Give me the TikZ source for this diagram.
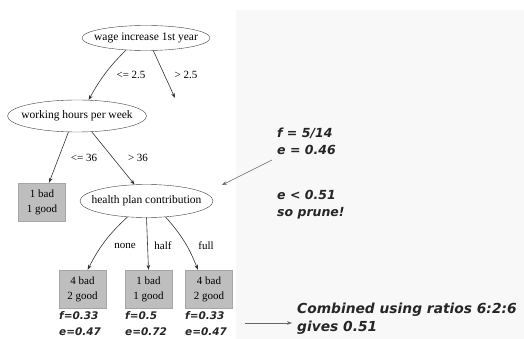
\documentclass[tikz,border=0pt]{standalone}
\usepackage{fontspec}
\setmainfont{Liberation Serif}
\newfontfamily\notefont{DejaVu Sans Bold Oblique}
\usepackage{tikz}
\usepackage{xcolor}
\usetikzlibrary{positioning,shapes.geometric,arrows.meta}
\definecolor{leafgray}{HTML}{BEBEBE}
\definecolor{panelgray}{HTML}{F8F8F8}

\begin{document}
\begin{tikzpicture}[x=1pt,y=-1pt]
    \tikzstyle{DTsplit} = [ellipse, draw=black!75, inner xsep=-10pt, inner ysep=0pt, font=\fontsize{11.5}{13}\selectfont]
    \tikzstyle{DTleaf} = [rectangle, draw=black!35, fill=leafgray, minimum width=47pt, minimum height=38pt, inner sep=0pt, align=center, font=\fontsize{11}{15}\selectfont]
    \tikzstyle{DTedge} = [draw=black!80, line width=0.6pt, -{Stealth[length=5pt,width=3.6pt]}]
    \tikzstyle{DTlab} = [inner sep=0pt, font=\fontsize{11}{13}\selectfont]
    \tikzstyle{DTnote} = [anchor=west, align=left, inner sep=0pt, text=black!85, font=\notefont\fontsize{12.5}{17}\selectfont]
    \tikzstyle{DTstat} = [anchor=north west, align=left, inner sep=0pt, text=black!85, font=\notefont\fontsize{10.5}{16}\selectfont]
    \useasboundingbox (0,0) rectangle (524,339);
    \fill[white] (0,0) rectangle (524,339);
    \fill[panelgray] (236,10) rectangle (524,339);
    % splits
    \node (wage) at (146,38) [DTsplit, minimum width=128pt, minimum height=25pt] {wage increase 1st year};
    \node (hours) at (77,116) [DTsplit, minimum width=139pt, minimum height=32pt] {working hours per week};
    \node (health) at (146.5,201) [DTsplit, minimum width=133pt, minimum height=33pt] {health plan contribution};
    % leaves
    \node (leaf0) at (42,202) [DTleaf] {1 bad\\1 good};
    \node (leaf1) at (82.5,289) [DTleaf] {4 bad\\2 good};
    \node (leaf2) at (148.5,289) [DTleaf] {1 bad\\1 good};
    \node (leaf3) at (209,289) [DTleaf] {4 bad\\2 good};
    \coordinate (cut) at (175,98);
    % edges
    \draw[DTedge] (wage.211) to[bend right=8] (hours.54);
    \draw[DTedge] (wage.300) -- (cut);
    \draw[DTedge] (hours.242) -- (leaf0.70);
    \draw[DTedge] (hours.313) -- (health.126);
    \draw[DTedge] (health.220) to[bend right=10] (leaf1.75);
    \draw[DTedge] (health.south) -- (leaf2.north);
    \draw[DTedge] (health.320) to[bend left=10] (leaf3.120);
    \node (l0) at (131,75) [DTlab] {<= 2.5};
    \node (l1) at (186,75) [DTlab] {> 2.5};
    \node (l2) at (84,158) [DTlab] {<= 36};
    \node (l3) at (138,158) [DTlab] {> 36};
    \node (l4) at (125,246) [DTlab] {none};
    \node (l5) at (163,246) [DTlab] {half};
    \node (l6) at (206,246) [DTlab] {full};
    % error estimates
    \node (s1) at (59,311) [DTstat] {f=0.33\\e=0.47};
    \node (s2) at (125,311) [DTstat] {f=0.5\\e=0.72};
    \node (s3) at (185,311) [DTstat] {f=0.33\\e=0.47};
    \node (fe) at (277,141) [DTnote] {f = 5/14\\e = 0.46};
    \node (prune) at (277,205) [DTnote] {e < 0.51\\so prune!};
    \node (comb) at (297,319) [DTnote, font=\notefont\fontsize{13.8}{18}\selectfont] {Combined using ratios 6:2:6\\gives 0.51};
    \coordinate (fetail) at (272,160);
    \coordinate (fetip) at (222,185);
    \coordinate (combtail) at (245,323);
    \coordinate (combtip) at (292,323);
    \draw[DTedge, draw=black!60] (fetail) -- (fetip);
    \draw[DTedge, draw=black!60] (combtail) -- (combtip);
\end{tikzpicture}
\end{document}
